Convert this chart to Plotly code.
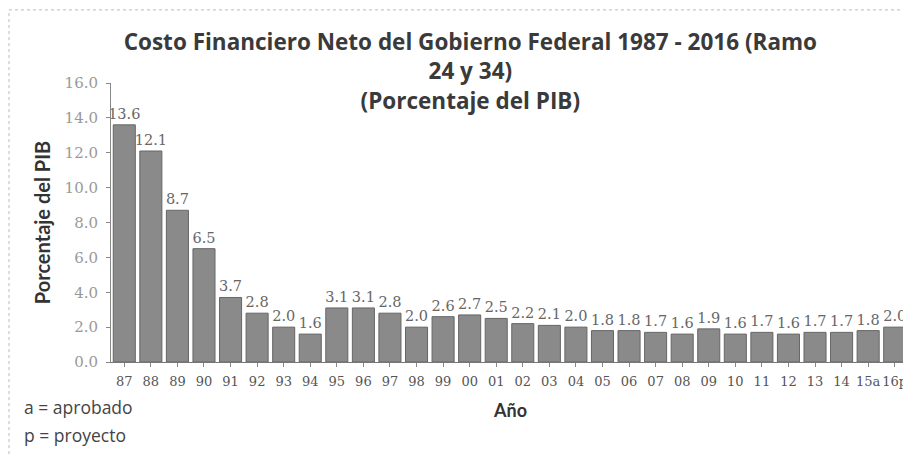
import plotly.graph_objects as go

years = ["87","88","89","90","91","92","93","94","95","96","97","98","99","00",
         "01","02","03","04","05","06","07","08","09","10","11","12","13","14","15a","16p"]
values = [13.6,12.1,8.7,6.5,3.7,2.8,2.0,1.6,3.1,3.1,2.8,2.0,2.6,2.7,
          2.5,2.2,2.1,2.0,1.8,1.8,1.7,1.6,1.9,1.6,1.7,1.6,1.7,1.7,1.8,2.0]
yticks = [0,2,4,6,8,10,12,14,16]

fig = go.Figure(go.Bar(
    x=years, y=values,
    marker=dict(color="#8a8a8a", line=dict(color="#666666", width=1)),
    text=[f"{v:.1f}" for v in values], textposition="outside", cliponaxis=False,
    constraintext="none",
    textfont=dict(family="DejaVu Serif", size=14.5, color="#666666"),
))

# the page body adds an 8px margin, so the figure is drawn 8px smaller
fig.update_layout(
    width=903, height=447,
    margin=dict(l=103, r=3, t=75, b=93),
    paper_bgcolor="white", plot_bgcolor="white",
    bargap=0.17,
    showlegend=False,
    title=dict(
        text="<b>Costo Financiero Neto del Gobierno Federal 1987 - 2016 (Ramo<br>24 y 34)<br>(Porcentaje del PIB)</b>",
        x=0.512, xanchor="center", y=0.906, yanchor="top",
        font=dict(family="Open Sans", size=22.5, color="#3a3a3a"),
    ),
    xaxis=dict(
        type="category", showline=True, linecolor="#777777", ticks="outside",
        tickcolor="#888888", ticklen=4, automargin=False, tickangle=0,
        ticklabelstandoff=3,
        tickfont=dict(family="DejaVu Serif", size=13, color="#555555"),
    ),
    yaxis=dict(
        range=[0, 16], tickvals=yticks, ticktext=[f"{t:.1f}" for t in yticks],
        showgrid=False, showline=True, linecolor="#888888", ticks="outside",
        tickcolor="#888888", ticklen=4, zeroline=False, automargin=False,
        ticklabelstandoff=5,
        tickfont=dict(family="DejaVu Serif", size=15, color="#999999"),
    ),
    shapes=[
        dict(type="line", xref="paper", yref="paper", x0=-0.128, x1=-0.128, y0=-0.33, y1=1.262,
             line=dict(color="#bbbbbb", width=1, dash="dot")),
        dict(type="line", xref="paper", yref="paper", x0=-0.128, x1=1.0, y0=1.262, y1=1.262,
             line=dict(color="#bbbbbb", width=1, dash="dot")),
    ],
    annotations=[
        dict(text="<b>Porcentaje del PIB</b>", xref="paper", yref="paper", x=-0.087, y=0.5,
             textangle=-90, showarrow=False, xanchor="center", yanchor="middle",
             font=dict(family="Lato", size=20, color="#333333")),
        dict(text="<b>Año</b>", xref="paper", yref="paper", x=0.5, y=-0.172,
             showarrow=False, xanchor="center", yanchor="middle",
             font=dict(family="Lato", size=18, color="#333333")),
        dict(text="a = aprobado", xref="paper", yref="paper", x=-0.112, y=-0.161, xanchor="left",
             yanchor="middle", showarrow=False, font=dict(family="Open Sans", size=17.5, color="#444444")),
        dict(text="p = proyecto", xref="paper", yref="paper", x=-0.112, y=-0.262, xanchor="left",
             yanchor="middle", showarrow=False, font=dict(family="Open Sans", size=17.5, color="#444444")),
    ],
)

fig.write_html("out.html")
